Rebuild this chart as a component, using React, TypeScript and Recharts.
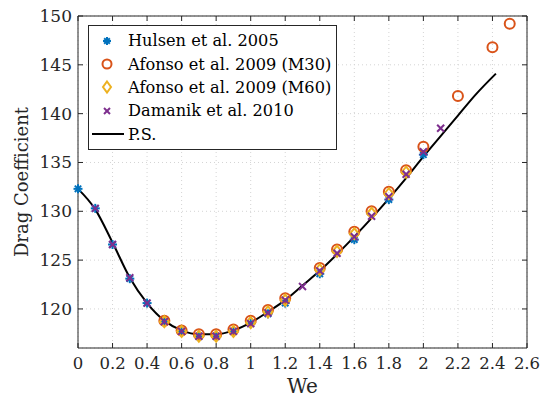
import React from 'react';
import { ComposedChart, Scatter, Line, XAxis, YAxis, CartesianGrid, Legend } from 'recharts';

const weHulsen = [0, 0.1, 0.2, 0.3, 0.4, 0.5, 0.6, 0.7, 0.8, 0.9, 1.0, 1.1, 1.2, 1.4, 1.6, 1.8, 2.0];
const cdHulsen = [132.3, 130.3, 126.6, 123.1, 120.6, 118.7, 117.7, 117.2, 117.2, 117.7, 118.5, 119.5, 120.6, 123.6, 127.1, 131.2, 135.8];

const weM30 = [0.5, 0.6, 0.7, 0.8, 0.9, 1.0, 1.1, 1.2, 1.4, 1.5, 1.6, 1.7, 1.8, 1.9, 2.0, 2.2, 2.4, 2.5];
const cdM30 = [118.8, 117.8, 117.4, 117.4, 117.9, 118.8, 119.9, 121.1, 124.2, 126.1, 127.9, 130.0, 132.0, 134.2, 136.6, 141.8, 146.8, 149.2];

const weM60 = [0.5, 0.6, 0.7, 0.8, 0.9, 1.0, 1.1, 1.2, 1.4, 1.5, 1.6, 1.7, 1.8, 1.9];
const cdM60 = [118.7, 117.7, 117.2, 117.2, 117.7, 118.6, 119.7, 120.9, 124.0, 125.9, 127.7, 129.8, 131.8, 134.0];

const weDamanik = [0.1, 0.2, 0.3, 0.4, 0.5, 0.6, 0.7, 0.8, 0.9, 1.0, 1.1, 1.2, 1.3, 1.4, 1.5, 1.6, 1.7, 1.8, 1.9, 2.0, 2.1];
const cdDamanik = [130.3, 126.6, 123.2, 120.6, 118.7, 117.7, 117.2, 117.2, 117.7, 118.5, 119.6, 120.9, 122.3, 123.9, 125.7, 127.4, 129.5, 131.5, 133.8, 136.1, 138.5];

const weLine = [0, 0.1, 0.2, 0.3, 0.4, 0.5, 0.6, 0.7, 0.8, 0.9, 1.0, 1.1, 1.2, 1.3, 1.4, 1.5, 1.6, 1.7, 1.8, 1.9, 2.0, 2.1, 2.2, 2.3, 2.42];
const cdLine = [132.3, 130.2, 126.8, 123.2, 120.6, 118.8, 117.8, 117.4, 117.4, 117.8, 118.6, 119.7, 120.9, 122.4, 123.9, 125.6, 127.4, 129.3, 131.3, 133.4, 135.6, 137.7, 139.8, 141.9, 144.1];

const xTicks = [0, 0.2, 0.4, 0.6, 0.8, 1, 1.2, 1.4, 1.6, 1.8, 2, 2.2, 2.4, 2.6];
const yTicks = [120, 125, 130, 135, 140, 145, 150];

const X_MAX = 2.6;
const Y_MIN = 116;
const Y_MAX = 150;

const toPoints = (we: number[], cd: number[]) => we.map((w, i) => ({ we: w, cd: cd[i] }));

const W = 541;
const H = 405;
const MARGIN = { top: 16, right: 14, bottom: 0, left: 0 };
const Y_AXIS_W = 78;
const X_AXIS_H = 57;

const FONT = 'DejaVu Serif, serif';
const AXIS = '#262626';
const BLUE = '#0072BD';
const ORANGE = '#D95319';
const YELLOW = '#EDB120';
const PURPLE = '#7E2F8E';

const Asterisk = ({ cx, cy, color = BLUE, r = 4.5 }: any) => {
  const d = r * 0.7071;
  return (
    <g stroke={color} strokeWidth={2}>
      <line x1={cx - r} y1={cy} x2={cx + r} y2={cy} />
      <line x1={cx} y1={cy - r} x2={cx} y2={cy + r} />
      <line x1={cx - d} y1={cy - d} x2={cx + d} y2={cy + d} />
      <line x1={cx - d} y1={cy + d} x2={cx + d} y2={cy - d} />
    </g>
  );
};

const Circle = ({ cx, cy }: any) => (
  <circle cx={cx} cy={cy} r={5} fill="none" stroke={ORANGE} strokeWidth={2} />
);

const Diamond = ({ cx, cy }: any) => (
  <polygon
    points={`${cx},${cy - 5.5} ${cx + 4.5},${cy} ${cx},${cy + 5.5} ${cx - 4.5},${cy}`}
    fill="none"
    stroke={YELLOW}
    strokeWidth={2}
  />
);

const Cross = ({ cx, cy }: any) => (
  <g stroke={PURPLE} strokeWidth={2}>
    <line x1={cx - 3.5} y1={cy - 3.5} x2={cx + 3.5} y2={cy + 3.5} />
    <line x1={cx - 3.5} y1={cy + 3.5} x2={cx + 3.5} y2={cy - 3.5} />
  </g>
);

const fmt = (v: number) => String(Math.round(v * 10) / 10);

const BottomTick = ({ x, y, payload }: any) => (
  <g>
    <line x1={x} x2={x} y1={y} y2={y - 5} stroke={AXIS} />
    <text x={x} y={y + 21} textAnchor="middle" fontFamily={FONT} fontSize={16.5} fill={AXIS}>
      {fmt(payload.value)}
    </text>
  </g>
);

const LeftTick = ({ x, y, payload }: any) => (
  <g>
    <line x1={x} x2={x + 5} y1={y} y2={y} stroke={AXIS} />
    <text x={x - 6} y={y + 6} textAnchor="end" fontFamily={FONT} fontSize={17} fill={AXIS}>
      {payload.value}
    </text>
  </g>
);

// top and right edges of the axes box with inward ticks (overlay, same plot box as the chart)
const BoxEdges = () => {
  const left = MARGIN.left + Y_AXIS_W;
  const top = MARGIN.top;
  const right = W - MARGIN.right;
  const bottom = H - MARGIN.bottom - X_AXIS_H;
  const sx = (v: number) => left + (v / X_MAX) * (right - left);
  const sy = (v: number) => bottom - ((v - Y_MIN) / (Y_MAX - Y_MIN)) * (bottom - top);
  return (
    <svg width={W} height={H} style={{ position: 'absolute', left: 0, top: 0, pointerEvents: 'none' }}>
      <g stroke={AXIS} strokeWidth={1}>
        <line x1={left} x2={right} y1={top} y2={top} />
        <line x1={right} x2={right} y1={top} y2={bottom} />
        {xTicks.map((t) => (
          <line key={`t${t}`} x1={sx(t)} x2={sx(t)} y1={top} y2={top + 5} />
        ))}
        {yTicks.map((t) => (
          <line key={`r${t}`} x1={right} x2={right - 5} y1={sy(t)} y2={sy(t)} />
        ))}
      </g>
    </svg>
  );
};

const legendRows = [
  { label: 'Hulsen et al. 2005', icon: 'asterisk' },
  { label: 'Afonso et al. 2009 (M30)', icon: 'circle' },
  { label: 'Afonso et al. 2009 (M60)', icon: 'diamond' },
  { label: 'Damanik et al. 2010', icon: 'cross' },
  { label: 'P.S.', icon: 'line' },
];

const LegendIcon = ({ icon }: { icon: string }) => (
  <svg width={36} height={20} style={{ display: 'block' }}>
    {icon === 'asterisk' && <Asterisk cx={18} cy={10} r={4} />}
    {icon === 'circle' && <circle cx={18} cy={10} r={4.5} fill="none" stroke={ORANGE} strokeWidth={2} />}
    {icon === 'diamond' && (
      <polygon points="18,4.5 22,10 18,15.5 14,10" fill="none" stroke={YELLOW} strokeWidth={2} />
    )}
    {icon === 'cross' && (
      <g stroke={PURPLE} strokeWidth={2}>
        <line x1={15} y1={7} x2={21} y2={13} />
        <line x1={15} y1={13} x2={21} y2={7} />
      </g>
    )}
    {icon === 'line' && <line x1={3} x2={35} y1={10} y2={10} stroke="#000" strokeWidth={2} />}
  </svg>
);

const LegendBox = () => (
  <div
    style={{
      border: '1px solid #262626',
      background: '#fff',
      padding: '3px 5px 3px 0',
      fontFamily: FONT,
      fontSize: 16.2,
      color: '#000',
      display: 'inline-block',
    }}
  >
    {legendRows.map((r) => (
      <div key={r.label} style={{ display: 'flex', alignItems: 'center', height: 23.4 }}>
        <LegendIcon icon={r.icon} />
        <span style={{ marginLeft: 3, whiteSpace: 'nowrap' }}>{r.label}</span>
      </div>
    ))}
  </div>
);

export default function App() {
  return (
    <div style={{ position: 'relative', width: W, height: H }}>
      <style>{'body{margin:0;background:#fff}'}</style>
      <ComposedChart width={W} height={H} margin={MARGIN}>
        <CartesianGrid stroke="#d4d4d4" strokeDasharray="1 3" />
        <XAxis
          dataKey="we"
          type="number"
          domain={[0, X_MAX]}
          ticks={xTicks}
          interval={0}
          height={X_AXIS_H}
          stroke={AXIS}
          tickSize={0}
          tickMargin={0}
          tick={<BottomTick />}
          allowDuplicatedCategory={false}
          label={{ value: 'We', position: 'insideBottom', offset: 12, fontFamily: FONT, fontSize: 20, fill: AXIS }}
        />
        <YAxis
          type="number"
          domain={[Y_MIN, Y_MAX]}
          ticks={yTicks}
          interval={0}
          width={Y_AXIS_W}
          stroke={AXIS}
          tickSize={0}
          tickMargin={0}
          tick={<LeftTick />}
          label={{
            value: 'Drag Coefficient',
            angle: -90,
            position: 'insideLeft',
            offset: 22,
            style: { textAnchor: 'middle' },
            fontFamily: FONT,
            fontSize: 18,
            fill: AXIS,
          }}
        />
        <Line
          data={toPoints(weLine, cdLine)}
          dataKey="cd"
          type="monotone"
          stroke="#000"
          strokeWidth={2}
          dot={false}
          isAnimationActive={false}
        />
        <Scatter data={toPoints(weHulsen, cdHulsen)} dataKey="cd" shape={<Asterisk />} isAnimationActive={false} />
        <Scatter data={toPoints(weM30, cdM30)} dataKey="cd" shape={<Circle />} isAnimationActive={false} />
        <Scatter data={toPoints(weM60, cdM60)} dataKey="cd" shape={<Diamond />} isAnimationActive={false} />
        <Scatter data={toPoints(weDamanik, cdDamanik)} dataKey="cd" shape={<Cross />} isAnimationActive={false} />
        <Legend
          layout="vertical"
          align="center"
          verticalAlign="middle"
          content={<LegendBox />}
          wrapperStyle={{ left: 88, top: 25, width: 'auto', height: 'auto' }}
        />
      </ComposedChart>
      <BoxEdges />
    </div>
  );
}
